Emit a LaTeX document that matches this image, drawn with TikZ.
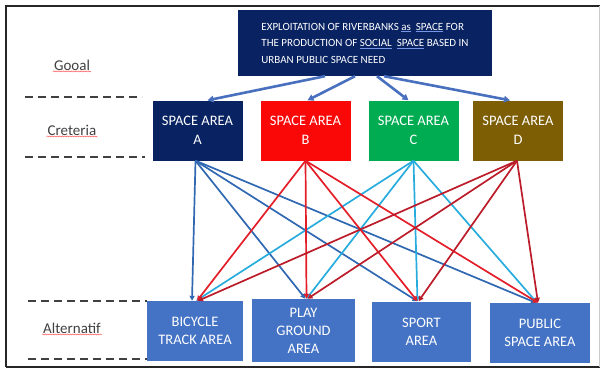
\documentclass[tikz,border=0pt]{standalone}
\usepackage{fontspec}
\setmainfont{Carlito}
\usepackage{xcolor}
\usetikzlibrary{arrows.meta,decorations.pathmorphing}
\definecolor{navyfill}{RGB}{8,34,98}
\definecolor{redfill}{RGB}{250,8,8}
\definecolor{greenfill}{RGB}{0,172,82}
\definecolor{brownfill}{RGB}{126,94,4}
\definecolor{altfill}{RGB}{68,114,196}
\definecolor{arrowblue}{RGB}{72,112,190}
\definecolor{linea}{RGB}{48,104,178}
\definecolor{lineb}{RGB}{228,30,40}
\definecolor{linec}{RGB}{40,172,222}
\definecolor{lined}{RGB}{188,28,42}
\definecolor{ulblue}{RGB}{120,150,230}
\newcommand{\blueul}[1]{{\color{ulblue}\underline{\color{white}#1}}}
\tikzset{
	goalnode/.style={rectangle, fill=navyfill, text=white, minimum width=254pt, minimum height=66pt, align=left, font=\fontsize{11}{16.5}\selectfont},
	critnode/.style={rectangle, text=white, minimum width=90pt, minimum height=60pt, align=center, font=\fontsize{14.5}{19}\selectfont},
	altnode/.style={rectangle, fill=altfill, text=white, minimum height=60pt, align=center, font=\fontsize{14.5}{18}\selectfont},
	levelnode/.style={text=black!75, inner sep=1pt, font=\fontsize{15}{18}\selectfont},
	spellline/.style={red!65, line width=0.5pt, decorate, decoration={snake, amplitude=0.5pt, segment length=2.5pt}},
	levelline/.style={black!75, line width=1.8pt, dash pattern=on 8pt off 5pt},
	goalarrow/.style={arrowblue, line width=2.6pt, -{Triangle[length=6pt,width=6.5pt]}},
	critline/.style={line width=1.7pt, -{Triangle[length=5pt,width=5pt]}}
}
\begin{document}
\begin{tikzpicture}[x=1pt,y=-1pt]
		\useasboundingbox (0,0) rectangle (605,372);
		% frame
		\draw[black!85, line width=1.3pt] (600,6) -- (6,6) -- (6,367);
		\draw[black!85, line width=2.2pt] (6,367) -- (600,367);
		\draw[black!20, line width=0.8pt] (599,6) -- (599,367);
		
		\node[goalnode] at (365,43) (goal) {EXPLOITATION OF RIVERBANKS \blueul{as}\ \ \blueul{SPACE} FOR\\THE PRODUCTION OF \blueul{SOCIAL}\ \ \blueul{SPACE} BASED IN\\URBAN PUBLIC SPACE NEED};
		
		\node[critnode, fill=navyfill] at (197.5,130.5) (A) {SPACE AREA\\A};
		\node[critnode, fill=redfill] at (305.5,130.5) (B) {SPACE AREA\\B};
		\node[critnode, fill=greenfill] at (413.5,130.5) (C) {SPACE AREA\\C};
		\node[critnode, fill=brownfill] at (518,130.5) (D) {SPACE AREA\\D};
		
		\node[altnode, minimum width=96pt] at (195,331) (bike) {BICYCLE\\TRACK AREA};
		\node[altnode, minimum width=103pt, minimum height=63pt] at (303.5,330.5) (play) {PLAY\\GROUND\\AREA};
		\node[altnode, minimum width=99pt] at (421.5,331.5) (sport) {SPORT\\AREA};
		\node[altnode, minimum width=100pt] at (540,333) (public) {PUBLIC\\SPACE AREA};
		
		\node[levelnode] at (72,65) (gooal) {Gooal};
		\node[levelnode] at (72,130) (creteria) {Creteria};
		\node[levelnode] at (72,328) (alternatif) {Alternatif};
		\draw[spellline] (gooal.south west) -- (gooal.south east);
		\draw[spellline] (creteria.south west) -- (creteria.south east);
		\draw[spellline] (alternatif.south west) -- (alternatif.south east);
		
		%Lines
		\draw[levelline] (25,97) -- (142,97);
		\draw[levelline] (25,157) -- (145,157);
		\draw[levelline] (28,301) -- (147,301);
		\draw[levelline] (28,359) -- (147,359);
		
		\draw[goalarrow] ([xshift=-40pt]goal.south) -- ([xshift=10pt]A.north);
		\draw[goalarrow] ([xshift=-10pt]goal.south) -- ([xshift=2pt]B.north);
		\draw[goalarrow] ([xshift=12pt]goal.south) -- ([xshift=-5pt]C.north);
		\draw[goalarrow] ([xshift=19pt]goal.south) -- ([xshift=-8pt]D.north);
		
		\draw[critline, linea] ([xshift=-2pt]A.south) -- ([xshift=-3pt]bike.north);
		\draw[critline, linea] ([xshift=-2pt]A.south) -- ([xshift=2pt]play.north);
		\draw[critline, linea] ([xshift=-2pt]A.south) -- ([xshift=-4pt]sport.north);
		\draw[critline, linea] ([xshift=-2pt]A.south) -- ([xshift=-4pt]public.north);
		
		\draw[critline, linec] (C.south) -- ([xshift=1pt]bike.north);
		\draw[critline, linec] (C.south) -- ([xshift=3pt]play.north);
		\draw[critline, linec] (C.south) -- ([xshift=-4pt]sport.north);
		\draw[critline, linec] (C.south) -- ([xshift=-3pt]public.north);
		
		\draw[critline, lineb] (B.south) -- ([xshift=2pt]bike.north);
		\draw[critline, lineb] (B.south) -- ([xshift=3pt]play.north);
		\draw[critline, lineb] (B.south) -- ([xshift=-4pt]sport.north);
		\draw[critline, lineb] (B.south) -- ([xshift=-2pt]public.north);
		
		\draw[critline, lined] ([xshift=-1pt]D.south) -- ([xshift=3pt]bike.north);
		\draw[critline, lined] ([xshift=-1pt]D.south) -- ([xshift=4pt]play.north);
		\draw[critline, lined] ([xshift=-1pt]D.south) -- ([xshift=-3pt]sport.north);
		\draw[critline, lined] ([xshift=-1pt]D.south) -- ([xshift=-2pt]public.north);
		
	\end{tikzpicture}
\end{document}
